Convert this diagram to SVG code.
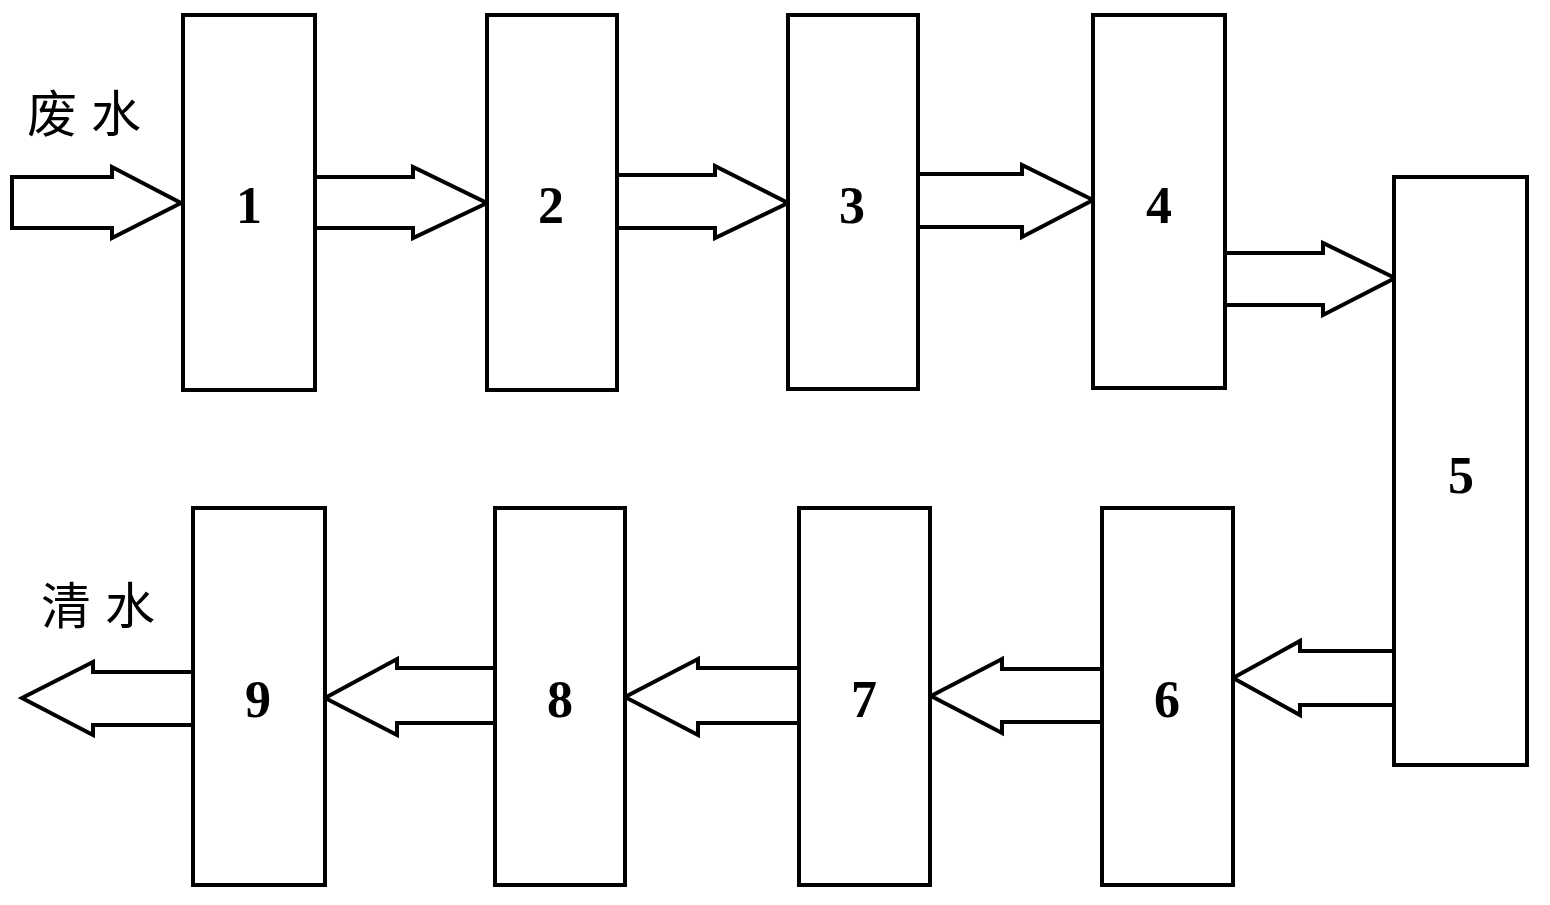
<svg xmlns="http://www.w3.org/2000/svg" width="1550" height="905" viewBox="0 0 1550 905">
<style>
.box{fill:#fff;stroke:#000;stroke-width:4}
.arr{fill:#fff;stroke:#000;stroke-width:4;stroke-linejoin:miter}
.num{font-family:"Liberation Serif","DejaVu Serif",serif;font-size:52px;font-weight:bold;text-anchor:middle;fill:#000}
.lbl{font-family:"Liberation Sans","Noto Sans CJK SC",sans-serif;font-size:50px;letter-spacing:14px;fill:#000}
</style>
<rect width="1550" height="905" fill="#fff"/>
<g id="connectors">
<polygon class="arr" points="12,177 112,177 112,167 181,203 112,238 112,228 12,228"/>
<polyline class="arr" points="315,177 413,177 413,167 487,203 413,238 413,228 315,228"/>
<polyline class="arr" points="617,175 715,175 715,166 788,203 715,238 715,228 617,228"/>
<polyline class="arr" points="918,174 1022,174 1022,165 1093,200 1022,237 1022,227 918,227"/>
<polyline class="arr" points="1225,253 1323,253 1323,243 1395,278 1323,315 1323,305 1225,305"/>
<polyline class="arr" points="1394,651 1300,651 1300,641 1233,678 1300,715 1300,705 1394,705"/>
<polyline class="arr" points="1102,669 1002,669 1002,659 931,696 1002,733 1002,722 1102,722"/>
<polyline class="arr" points="799,668 698,668 698,659 625,697 698,735 698,723 799,723"/>
<polyline class="arr" points="495,668 397,668 397,659 325,698 397,735 397,723 495,723"/>
<polygon class="arr" points="193,672 93,672 93,662 22,698 93,735 93,725 193,725"/>
</g>
<g id="node1"><rect class="box" x="183" y="15" width="132" height="375"/><text class="num" x="249" y="223">1</text></g>
<g id="node2"><rect class="box" x="487" y="15" width="130" height="375"/><text class="num" x="551" y="223">2</text></g>
<g id="node3"><rect class="box" x="788" y="15" width="130" height="374"/><text class="num" x="852" y="223">3</text></g>
<g id="node4"><rect class="box" x="1093" y="15" width="132" height="373"/><text class="num" x="1159" y="223">4</text></g>
<g id="node5"><rect class="box" x="1394" y="177" width="133" height="588"/><text class="num" x="1461" y="493">5</text></g>
<g id="node6"><rect class="box" x="1102" y="508" width="131" height="377"/><text class="num" x="1167" y="717">6</text></g>
<g id="node7"><rect class="box" x="799" y="508" width="131" height="377"/><text class="num" x="864" y="717">7</text></g>
<g id="node8"><rect class="box" x="495" y="508" width="130" height="377"/><text class="num" x="560" y="717">8</text></g>
<g id="node9"><rect class="box" x="193" y="508" width="132" height="377"/><text class="num" x="258" y="717">9</text></g>
<g id="labels">
<text class="lbl" x="27" y="132">废水</text>
<text class="lbl" x="41" y="624">清水</text>
</g>
</svg>
